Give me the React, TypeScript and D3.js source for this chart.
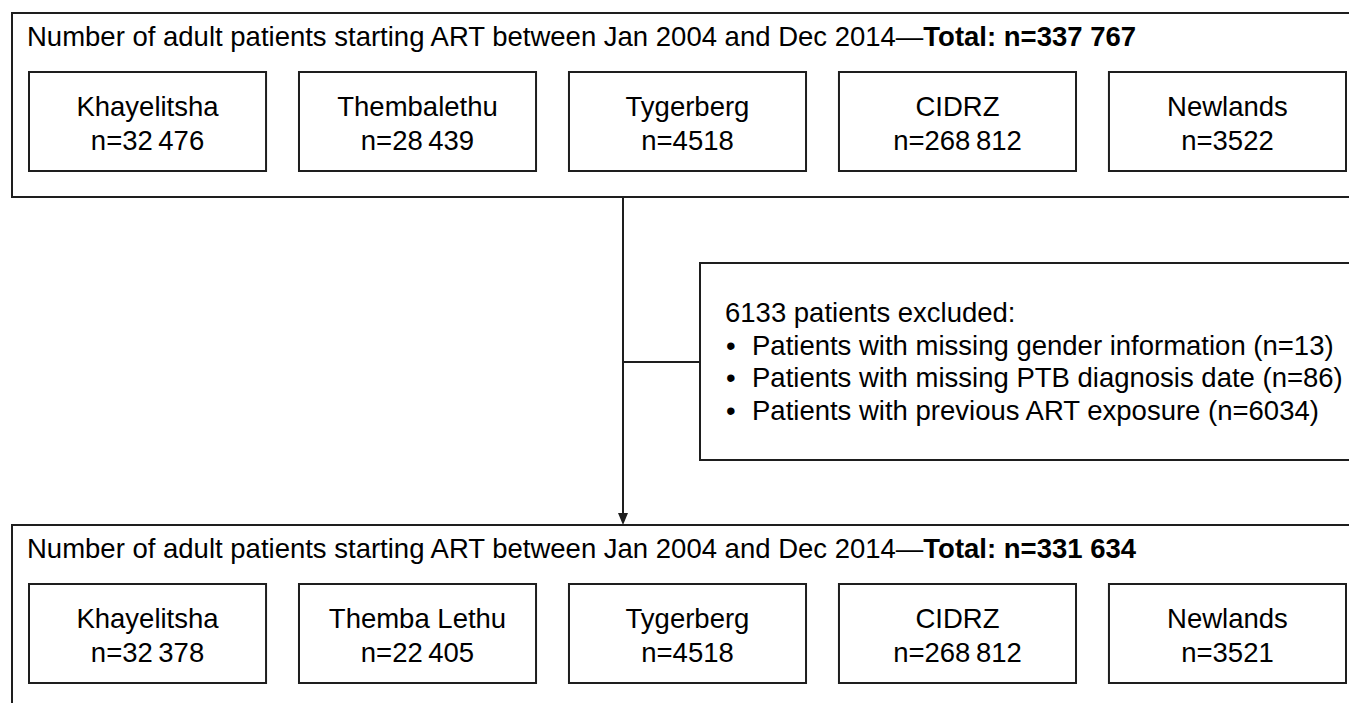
import * as d3 from 'd3';

const W = 1349;
const H = 703;
const FONT = '"Liberation Sans", Arial, Helvetica, sans-serif';
const INK = '#1e1e1e';
const FS = 27.5;

const TITLE_TEXT = 'Number of adult patients starting ART between Jan 2004 and Dec 2014—';
const sitesBefore = ['Khayelitsha', 'Thembalethu', 'Tygerberg', 'CIDRZ', 'Newlands'];
const countsBefore = [32476, 28439, 4518, 268812, 3522];
const sitesAfter = ['Khayelitsha', 'Themba Lethu', 'Tygerberg', 'CIDRZ', 'Newlands'];
const countsAfter = [32378, 22405, 4518, 268812, 3521];
const exclusionReasons = [
  'Patients with missing gender information',
  'Patients with missing PTB diagnosis date',
  'Patients with previous ART exposure',
];
const exclusionCounts = [13, 86, 6034];

// space-grouped thousands, only for 5+ digit numbers
function fmt(n: number, sep = '\u2009'): string {
  if (n < 10000) return String(n);
  return d3.format(',')(n).replace(/,/g, sep);
}

const x = d3
  .scaleBand<number>()
  .domain(d3.range(5))
  .range([29, 1346])
  .paddingInner(0.122)
  .paddingOuter(0);

interface PanelProps {
  top: number;
  sites: string[];
  counts: number[];
  bottom: number;
}

function Panel({ top, sites, counts, bottom }: PanelProps) {
  const total = d3.sum(counts);
  const boxTop = top + 59;
  const boxH = 99;
  return (
    <g>
      <rect x={12} y={top} width={W + 20} height={bottom - top} fill="none" stroke={INK} strokeWidth={2} />
      <text x={27} y={top + 32.5} fontSize={FS} fill="#000">
        {TITLE_TEXT}
        <tspan fontWeight="bold">{`Total: n=${fmt(total, ' ')}`}</tspan>
      </text>
      {sites.map((s, i) => {
        const bx = x(i) ?? 0;
        const cx = bx + x.bandwidth() / 2;
        return (
          <g key={s + i}>
            <rect x={bx} y={boxTop} width={x.bandwidth()} height={boxH} fill="none" stroke={INK} strokeWidth={2} />
            <text x={cx} y={boxTop + 44} fontSize={FS} textAnchor="middle" fill="#000">
              {s}
            </text>
            <text x={cx} y={boxTop + 77.5} fontSize={FS} textAnchor="middle" fill="#000">
              {`n=${fmt(counts[i])}`}
            </text>
          </g>
        );
      })}
    </g>
  );
}

export default function App() {
  const excluded = d3.sum(exclusionCounts);
  const stemX = 623;
  const branchY = 362;
  const exTop = 263;
  const exBottom = 460;
  const exLeft = 700;
  const lineY = d3.scaleLinear().domain([0, 1]).range([322, 354.7]);
  return (
    <svg
      width={W}
      height={H}
      style={{ position: 'absolute', left: 0, top: 0, display: 'block', background: '#fff' }}
      fontFamily={FONT}
    >
      <rect x={0} y={0} width={W} height={H} fill="#fff" />
      <Panel top={13} sites={sitesBefore} counts={countsBefore} bottom={197} />
      <Panel top={525} sites={sitesAfter} counts={countsAfter} bottom={H + 20} />

      {/* connector + arrow */}
      <line x1={stemX} y1={197} x2={stemX} y2={516} stroke={INK} strokeWidth={2} />
      <path d={`M${stemX - 5},${513} L${stemX + 5},${513} L${stemX},${525} Z`} fill={INK} />
      <line x1={stemX} y1={branchY} x2={exLeft} y2={branchY} stroke={INK} strokeWidth={2} />

      {/* exclusion box */}
      <rect x={exLeft} y={exTop} width={W + 20 - exLeft} height={exBottom - exTop} fill="none" stroke={INK} strokeWidth={2} />
      <text x={725} y={lineY(0)} fontSize={FS} fill="#000">
        {`${excluded} patients excluded:`}
      </text>
      {exclusionReasons.map((r, i) => (
        <g key={r}>
          <text x={726} y={lineY(i + 1)} fontSize={FS} fill="#000">
            •
          </text>
          <text x={752} y={lineY(i + 1)} fontSize={FS} fill="#000">
            {`${r} (n=${exclusionCounts[i]})`}
          </text>
        </g>
      ))}
    </svg>
  );
}
